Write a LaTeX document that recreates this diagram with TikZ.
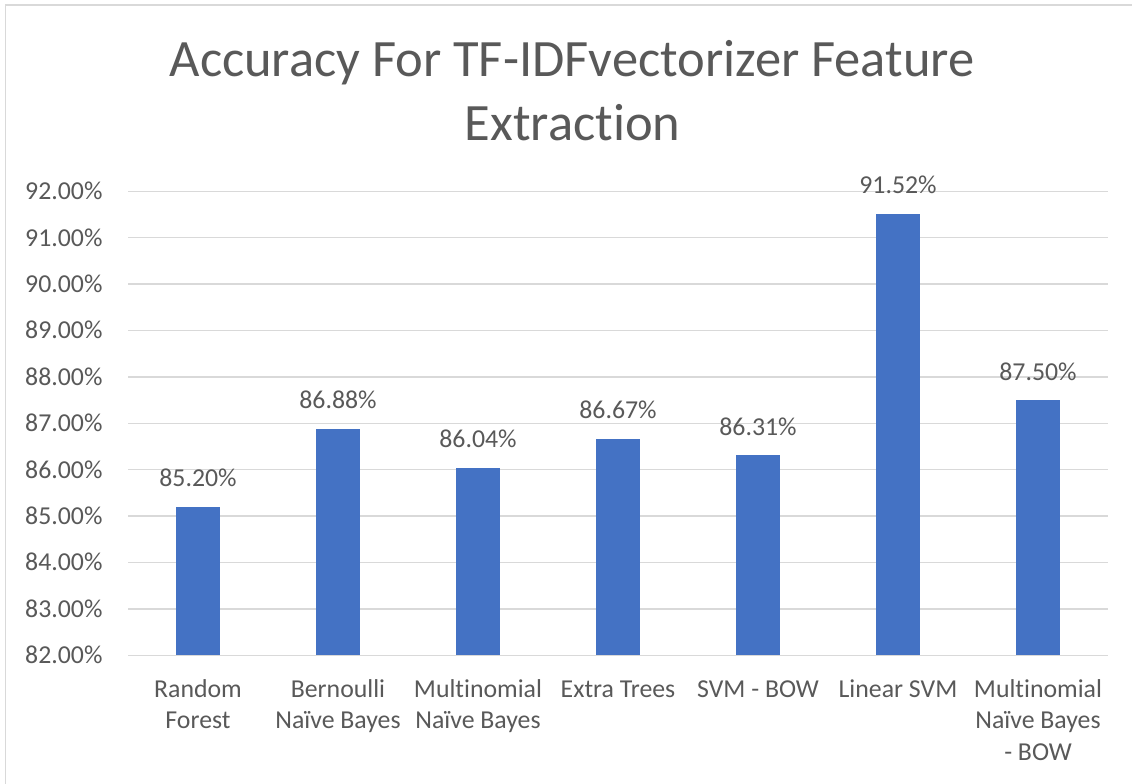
\documentclass[tikz,border=0pt]{standalone}
\usepackage{fontspec}
\setmainfont{Carlito}[Ligatures={NoCommon,NoDiscretionary,NoContextual}]
\definecolor{txt}{HTML}{595959}
\definecolor{grid}{HTML}{D9D9D9}
\definecolor{barblue}{HTML}{4472C4}
\newcommand{\ylev}[1]{655.3-(#1-82)*46.4}
\tikzset{
  gridline/.style={draw=grid, line width=1.3pt},
  frameline/.style={draw=grid, line width=1.7pt},
  bar/.style={fill=barblue},
  ticklabel/.style={text=txt, inner sep=0pt, anchor=base east, font=\fontsize{25.8}{31.6}\selectfont},
  valuelabel/.style={text=txt, inner sep=0pt, anchor=base, font=\fontsize{25.8}{31.6}\selectfont},
  catlabel/.style={text=txt, inner sep=0pt, anchor=base, font=\fontsize{25.8}{31.6}\selectfont},
  titlelabel/.style={text=txt, inner sep=0pt, anchor=base, font=\fontsize{52.5}{63}\selectfont}
}
\begin{document}
\begin{tikzpicture}[x=1pt, y=-1pt]
\useasboundingbox (0,0) rectangle (1132,784);
\fill[white] (0,0) rectangle (1132,784);
% chart frame (top and left edges visible)
\coordinate (fbl) at (5.5,790);
\coordinate (ftl) at (5.5,5);
\coordinate (ftr) at (1140,5);
\draw[frameline] (fbl) -- (ftl) -- (ftr);
% title
\node[titlelabel] (title1) at (572,77) {Accuracy For TF-IDFvectorizer Feature};
\node[titlelabel] (title2) at (572.5,140) {Extraction};
% horizontal gridlines and axis values
\foreach \v in {82,...,92} {
  \coordinate (gl\v) at (128,{\ylev{\v}});
  \coordinate (gr\v) at (1108,{\ylev{\v}});
  \draw[gridline] (gl\v) -- (gr\v);
  \node[ticklabel] (tick\v) at (102.7,{\ylev{\v}+8.3}) {\v.00\%};
}
% bars with value labels
\foreach \i/\v/\lab in {0/85.20/85.20\%, 1/86.88/86.88\%, 2/86.04/86.04\%, 3/86.67/86.67\%, 4/86.31/86.31\%, 5/91.52/91.52\%, 6/87.50/87.50\%} {
  \pgfmathsetmacro{\cx}{198+140*\i}
  \fill[bar] ({\cx-22},{\ylev{\v}}) rectangle ({\cx+22},655.3);
  \node[valuelabel] (val\i) at (\cx,{\ylev{\v}-20}) {\lab};
}
% category labels
\foreach \i/\lab in {0/{Random\\Forest}, 1/{Bernoulli\\Naïve Bayes}, 2/{Multinomial\\Naïve Bayes}, 3/{Extra Trees}, 4/{SVM - BOW}, 5/{Linear SVM}, 6/{Multinomial\\Naïve Bayes\\- BOW}} {
  \node[catlabel] (cat\i) at ({198+140*\i},697) {\begin{tabular}[t]{@{}c@{}}\lab\end{tabular}};
}
\end{tikzpicture}
\end{document}
